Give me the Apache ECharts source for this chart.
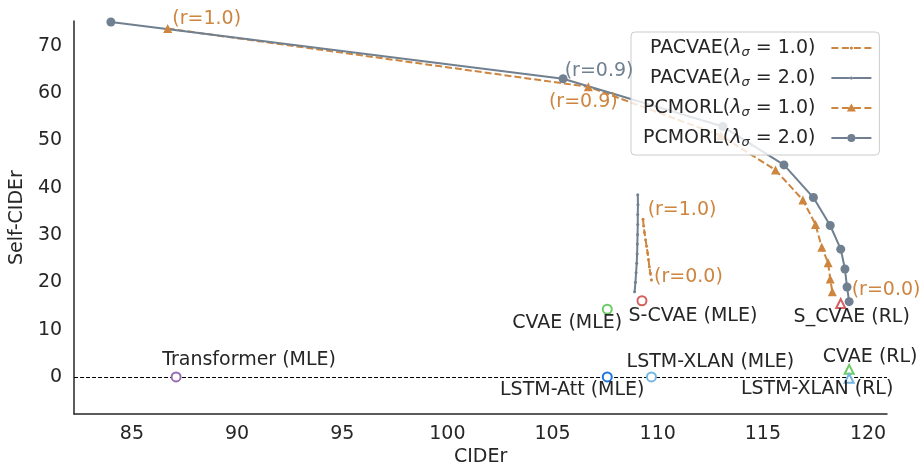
<!DOCTYPE html>
<html>
<head>
<meta charset="utf-8">
<script src="https://cdn.jsdelivr.net/npm/echarts@6/dist/echarts.min.js"></script>
<style>
  html, body { margin: 0; padding: 0; background: #fff; }
  #chart { width: 923px; height: 472px; }
</style>
</head>
<body>
<div id="chart"></div>
<script>
// PCMORL curves, r from 1.0 down to 0.0
var pcmorl2X = [84.0, 105.5, 113.1, 116.0, 117.4, 118.2, 118.7, 118.9, 119.0, 119.1];
var pcmorl2Y = [75.0, 63.0, 52.9, 44.8, 37.9, 32.0, 27.0, 22.8, 19.0, 15.9];
var pcmorl1X = [86.7, 106.7, 113.0, 115.6, 116.9, 117.5, 117.8, 118.1, 118.2, 118.3];
var pcmorl1Y = [73.6, 61.3, 51.0, 43.7, 37.4, 32.2, 27.4, 24.1, 20.7, 18.0];

// PACVAE curves
var pacvae2X = [109.05, 109.06, 109.05, 109.05, 109.04, 109.03, 109.02, 109.0, 108.97, 108.94, 108.9];
var pacvae2Y = [38.5, 36.4, 34.3, 32.2, 30.1, 28.1, 26.0, 24.0, 22.0, 20.0, 18.0];
var pacvae1X = [109.3, 109.33, 109.37, 109.42, 109.47, 109.52, 109.56, 109.6, 109.65, 109.7];
var pacvae1Y = [33.3, 31.9, 30.5, 29.0, 27.6, 26.2, 24.8, 23.3, 21.9, 20.5];

// baselines
var baseNames = ['Transformer (MLE)', 'LSTM-Att (MLE)', 'LSTM-XLAN (MLE)', 'CVAE (RL)',
  'LSTM-XLAN (RL)', 'CVAE (MLE)', 'S-CVAE (MLE)', 'S_CVAE (RL)'];
var baseX = [87.1, 107.6, 109.7, 119.1, 119.1, 107.6, 109.25, 118.7];
var baseY = [0.0, 0.0, 0.0, 1.6, -0.3, 14.3, 16.1, 15.5];

// r annotations
var noteText = ['(r=1.0)', '(r=0.9)', '(r=0.9)', '(r=1.0)', '(r=0.0)', '(r=0.0)'];
var noteX = [86.7, 105.5, 106.7, 109.3, 109.7, 119.0];
var noteY = [73.6, 63.0, 61.3, 33.3, 20.5, 19.0];

var ORANGE = '#cd853f';
var SLATE = '#708090';
var INK = '#262626';
var FONT = 'DejaVu Sans';

// styles (kept apart from the values)
var baseSymbol = ['circle', 'circle', 'circle', 'triangle', 'triangle', 'circle', 'circle', 'triangle'];
var baseColor = ['#956cb4', '#1f74e0', '#72b5e0', '#6acc64', '#72b5e0', '#6acc64', '#d65f5f', '#d65f5f'];
var baseLabelOffset = [[73, -17], [-35, 13], [59, -15], [21, -12], [-32, 11], [-40, 14], [51, 15], [11, 13]];
var noteColor = [ORANGE, SLATE, ORANGE, ORANGE, ORANGE, ORANGE];
var noteOffset = [[39, -10], [36, -8], [-5, 15], [39, -9], [37, -3], [39, 3]];

function pairs(xs, ys) {
  var out = [];
  for (var i = 0; i < xs.length; i++) out.push([xs[i], ys[i]]);
  return out;
}

// legend icons: 40x14 box, line + marker
var BOX = 'M0 0 M40 14 ';
var dashes = 'M0 6 H7 V8 H0 Z M10.5 6 H17.5 V8 H10.5 Z M22.5 6 H29.5 V8 H22.5 Z M33 6 H40 V8 H33 Z ';
var dot = 'M18.4 7 A1.6 1.6 0 1 1 21.6 7 A1.6 1.6 0 1 1 18.4 7 Z';
var iconPac1 = 'path://' + BOX + dashes + dot;
var iconPac2 = 'path://' + BOX + 'M0 6 H18.4 V8 H0 Z M21.6 6 H40 V8 H21.6 Z ' + dot;
var iconPc1 = 'path://' + BOX + dashes + 'M20 2.5 L24.5 10.5 L15.5 10.5 Z';
var iconPc2 = 'path://' + BOX + 'M0 6 H16 V8 H0 Z M24 6 H40 V8 H24 Z M16 7 A4 4 0 1 1 24 7 A4 4 0 1 1 16 7 Z';

var chart = echarts.init(document.getElementById('chart'));

var baseData = baseNames.map(function (n, i) {
  return {
    name: n,
    value: [baseX[i], baseY[i]],
    symbol: baseSymbol[i],
    itemStyle: { color: '#fff', borderColor: baseColor[i], borderWidth: 2, opacity: 1 },
    label: { show: true, position: 'inside', offset: baseLabelOffset[i], formatter: n,
      color: INK, fontSize: 19, fontFamily: FONT, opacity: 1 }
  };
});

var noteData = noteText.map(function (t, i) {
  return {
    value: [noteX[i], noteY[i]],
    itemStyle: { opacity: 1 },
    label: { show: true, position: 'inside', offset: noteOffset[i], formatter: t,
      color: noteColor[i], fontSize: 19, fontFamily: FONT, opacity: 1 }
  };
});

var option = {
  animation: false,
  backgroundColor: '#fff',
  textStyle: { fontFamily: FONT },
  grid: { left: 72, right: 36, top: 21, bottom: 54 },
  legend: {
    orient: 'vertical',
    left: 631,
    top: 32,
    align: 'right',
    selectedMode: false,
    itemWidth: 40,
    itemHeight: 14,
    itemGap: 8,
    padding: [5, 8, 6, 12],
    backgroundColor: 'rgba(255,255,255,0.8)',
    borderColor: '#cccccc',
    borderWidth: 1,
    borderRadius: 4,
    itemStyle: { borderWidth: 0 },
    symbolKeepAspect: true,
    textStyle: {
      color: INK, fontSize: 19, fontFamily: FONT, lineHeight: 22,
      width: 170, align: 'right', padding: [0, 11, 0, 0],
      rich: {
        i: { fontSize: 19, fontStyle: 'italic', fontFamily: FONT, color: INK, lineHeight: 22 },
        s: { fontSize: 13, fontStyle: 'italic', fontFamily: FONT, color: INK, lineHeight: 22, verticalAlign: 'bottom', padding: [8, 0, 0, 0] }
      }
    },
    formatter: function (name) {
      var m = name.match(/^(\w+)\(λσ=(.*)\)$/);
      return m[1] + '({i|λ}{s|σ} = ' + m[2] + ')';
    },
    data: [
      { name: 'PACVAE(λσ=1.0)', icon: iconPac1 },
      { name: 'PACVAE(λσ=2.0)', icon: iconPac2 },
      { name: 'PCMORL(λσ=1.0)', icon: iconPc1 },
      { name: 'PCMORL(λσ=2.0)', icon: iconPc2 }
    ]
  },
  xAxis: {
    type: 'value',
    min: 82.25,
    max: 120.9,
    splitNumber: 8,
    name: 'CIDEr',
    nameLocation: 'middle',
    nameGap: 33,
    nameTextStyle: { color: INK, fontSize: 19, fontFamily: FONT },
    axisLine: { show: true, onZero: false, lineStyle: { color: INK, width: 1.5 } },
    axisTick: { show: false },
    splitLine: { show: false },
    axisLabel: {
      color: INK, fontSize: 19, fontFamily: FONT, margin: 10,
      showMinLabel: false, showMaxLabel: false,
      formatter: function (v) { return v % 5 === 0 ? String(v) : ''; }
    }
  },
  yAxis: {
    type: 'value',
    min: -7.85,
    max: 75.2,
    splitNumber: 8,
    name: 'Self-CIDEr',
    nameLocation: 'middle',
    nameGap: 44,
    nameTextStyle: { color: INK, fontSize: 19, fontFamily: FONT },
    axisLine: { show: true, onZero: false, lineStyle: { color: INK, width: 1.5 } },
    axisTick: { show: false },
    splitLine: { show: false },
    axisLabel: {
      color: INK, fontSize: 19, fontFamily: FONT, margin: 12,
      showMinLabel: false, showMaxLabel: false,
      formatter: function (v) { return v % 10 === 0 ? String(v) : ''; }
    }
  },
  series: [
    {
      type: 'line', data: [], silent: true, z: 1,
      markLine: {
        silent: true, symbol: 'none', animation: false,
        label: { show: false },
        lineStyle: { color: '#000', width: 1, type: [4, 2] },
        data: [{ yAxis: 0 }]
      }
    },
    {
      name: 'PACVAE(λσ=1.0)', type: 'line', data: pairs(pacvae1X, pacvae1Y), z: 3,
      symbol: 'circle', symbolSize: 3, showSymbol: true,
      lineStyle: { color: ORANGE, width: 2, type: [7, 3] },
      itemStyle: { color: ORANGE }
    },
    {
      name: 'PACVAE(λσ=2.0)', type: 'line', data: pairs(pacvae2X, pacvae2Y), z: 3,
      symbol: 'circle', symbolSize: 3, showSymbol: true,
      lineStyle: { color: SLATE, width: 2 },
      itemStyle: { color: SLATE }
    },
    {
      name: 'PCMORL(λσ=1.0)', type: 'line', data: pairs(pcmorl1X, pcmorl1Y), z: 3,
      symbol: 'triangle', symbolSize: 9, showSymbol: true,
      lineStyle: { color: ORANGE, width: 2, type: [7, 3] },
      itemStyle: { color: ORANGE }
    },
    {
      name: 'PCMORL(λσ=2.0)', type: 'line', data: pairs(pcmorl2X, pcmorl2Y), z: 3,
      symbol: 'circle', symbolSize: 9, showSymbol: true,
      lineStyle: { color: SLATE, width: 2 },
      itemStyle: { color: SLATE }
    },
    {
      type: 'scatter', data: baseData, z: 5, symbolSize: 9,
      itemStyle: { opacity: 1 }
    },
    {
      type: 'scatter', data: noteData, z: 6, symbolSize: 0,
      itemStyle: { opacity: 1 }
    }
  ]
};

chart.setOption(option);
</script>
</body>
</html>
